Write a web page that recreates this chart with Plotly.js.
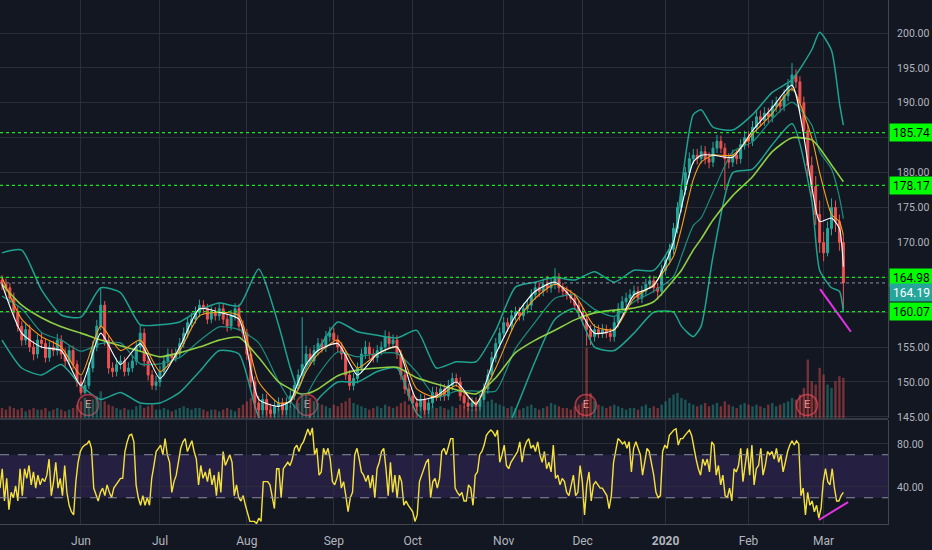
<!DOCTYPE html>
<html><head><meta charset="utf-8">
<script src="https://cdn.plot.ly/plotly-3.0.1.min.js"></script>
<style>html,body{margin:0;padding:0;background:#131722;}#chart{width:932px;height:550px;}</style>
</head><body><div id="chart"></div>
<script>
// trading-day index of the first session of each month
const monthIdx = [20, 40, 62, 84, 104, 127, 147, 168, 189, 208];
const monthLabels = ['Jun','Jul','Aug','Sep','Oct','Nov','Dec','<b>2020</b>','Feb','Mar'];

const opens = [164.6,164,163.5,162,160,158,156,157.5,155,154,
156,155.5,153.5,155,154.5,156,154,153,154.5,152.5,
150,148.5,149.5,152,155,158,161,156,152,151.5,
152.5,153,151.5,152,153,155,157,153,151,149.5,
150,151.5,153,154,153.5,154,155.5,157,158.5,159,
160,161,160.5,159,160,159.5,160.5,159,158,159.5,
160.5,158,157,154,150,147,146,147.5,146,145.5,
146.5,147,146,147,148,149.5,151,152.5,154,153,
154.5,155.5,155,156.5,157,156,155,154,151,149.5,
150.5,152,154,155,154,153.5,154.5,155,156.5,155.5,
156,154,151,149,148,147,146.5,147.5,146,147,
148.5,148,149,148,149.5,150.5,150,148,147,146.5,
147,146.5,147.5,149,151,153.5,155.5,157,158.5,158,
159.5,160,159.5,160.5,161,162.5,163.5,163,164,163.5,
164,165,163.5,163,162.5,162,161,160,159,157.5,
156.5,157.5,157,157.5,157,156.5,158.5,160.5,161.5,162,
162.5,163,162,163,164,164.5,163.5,163,166,167.5,
169,172,175,177.5,180,182,182.5,182,183,182,
181.5,183.5,184.5,183.5,182,181.5,182.5,182,184,185,
184.5,186.5,188,187.5,188.5,188,189.5,190,189.5,191,
192.5,194,193,190,186,181,178,174,170,168.5,
172,175,173,170];
const highs = [165.3,164.8,164.2,162.8,160.9,158.7,158.4,158.2,155.9,156.8,
157,156.2,155.8,155.9,156.9,156.7,154.8,155.3,155.2,153.1,
150.8,150.3,152.8,155.9,158.9,163.4,161.6,156.7,152.8,153.4,
153.8,153.6,152.8,153.8,155.8,158.2,157.7,153.6,151.7,150.9,
152.3,153.8,154.8,154.7,154.8,156.3,157.8,159.3,159.9,160.8,
161.8,161.7,161.2,160.8,160.7,161.3,161.2,159.7,160.3,161.3,
161.2,158.8,157.6,154.7,150.8,148,148.3,148.3,146.9,147.4,
147.8,147.7,147.8,148.8,150.3,151.8,159.3,155.2,154.8,155.3,
156.3,156.2,157.3,157.9,157.8,156.7,155.7,154.6,151.7,151.3,
152.8,154.8,155.9,155.7,154.8,155.3,155.8,157.4,157.2,156.8,
156.7,154.6,151.8,149.8,148.7,147.8,148.3,148.2,147.7,149.3,
149.3,149.8,149.7,150.3,151.3,151.2,150.7,148.7,147.8,147.8,
147.8,148.3,149.8,151.8,154.3,156.3,157.8,159.3,159.2,160.3,
160.8,160.7,161.3,161.8,163.3,164.3,164.3,164.8,165.2,164.8,
166.3,165.6,164.2,163.7,163.2,162.7,161.7,160.7,159.7,158.2,
158.3,158.2,158.3,158.2,157.7,159.3,161.3,162.3,162.8,163.3,
163.8,163.7,163.8,164.8,165.3,165.2,164.2,166.8,168.3,169.8,
172.8,175.8,178.3,180.8,182.9,183.4,183.4,183.9,183.8,182.9,
184.4,185.4,185.3,184.2,182.8,183.3,183.2,184.8,186,185.9,
187.4,189,188.9,189.4,189.3,190.4,190.9,190.8,191.9,193.4,
195.7,194.8,193.8,190.9,187,182.3,179.5,176,171.5,173,
176.3,176,174,171];
const lows = [163.2,162.8,161.3,159.2,157.2,155.2,155.3,154.3,153.1,153.4,
154.8,152.8,152.9,153.7,153.8,153.3,152.2,152.4,151.8,149.3,
148.1,148.2,149,151.4,154.4,157.4,155.2,151.2,150.7,150.8,
151.8,150.8,150.9,151.4,152.4,154.3,152.2,150.2,148.9,148.8,
149.3,150.8,152.4,152.8,152.9,153.4,154.9,156.3,157.8,158.4,
159.3,159.8,158.3,158.4,158.8,158.8,158.3,157.2,157.4,158.8,
157.3,156.2,153.2,149.2,146.2,145.1,145.3,145.2,144.9,144.9,
145.8,145.3,145.3,146.3,147.4,148.8,150.3,151.8,152.3,152.4,
153.8,154.2,154.3,155.8,155.3,154.3,153.2,150.3,148.8,148.8,
149.8,151.3,153.3,153.3,152.8,152.8,153.8,154.3,154.8,154.8,
153.3,150.3,148.3,147.3,146.2,145.8,145.8,145.3,145.4,146.3,
147.3,147.3,147.3,147.4,148.8,149.3,147.3,146.2,145.8,145.8,
145.8,145.9,146.8,148.3,150.3,152.8,154.8,156.3,157.2,157.3,
158.8,158.8,158.8,159.8,160.3,161.8,162.2,162.3,162.8,162.8,
163.3,162.8,162.2,161.8,161.3,160.3,159.3,158.2,155.2,155.3,
155.8,156.3,156.3,156.3,155.8,155.8,157.8,159.8,160.8,161.3,
161.8,161.3,161.3,162.3,163.3,162.8,161.8,162.3,165.3,166.8,
168.3,171.3,174.3,176.8,179.2,181.2,181.2,181.3,181.2,180.6,
180.8,182.8,182.8,177.5,180.6,180.8,181.2,181.3,183.3,183.6,
183.8,185.8,186.6,186.7,187.1,187.2,188.7,188.6,188.8,190.2,
191.6,192.1,189.2,184.9,179.5,176.5,172.5,168.5,167.3,168,
171,171.5,168.8,160.4];
const closes = [164,163.5,162,160,158,156,157.5,155,154,156,
155.5,153.5,155,154.5,156,154,153,154.5,152.5,150,
148.5,149.5,152,155,158,161,156,152,151.5,152.5,
153,151.5,152,153,155,157,153,151,149.5,150,
151.5,153,154,153.5,154,155.5,157,158.5,159,160,
161,160.5,159,160,159.5,160.5,159,158,159.5,160.5,
158,157,154,150,147,146,147.5,146,145.5,146.5,
147,146,147,148,149.5,151,152.5,154,153,154.5,
155.5,155,156.5,157,156,155,154,151,149.5,150.5,
152,154,155,154,153.5,154.5,155,156.5,155.5,156,
154,151,149,148,147,146.5,147.5,146,147,148.5,
148,149,148,149.5,150.5,150,148,147,146.5,147,
146.5,147.5,149,151,153.5,155.5,157,158.5,158,159.5,
160,159.5,160.5,161,162.5,163.5,163,164,163.5,164,
165,163.5,163,162.5,162,161,160,159,157.5,156.5,
157.5,157,157.5,157,156.5,158.5,160.5,161.5,162,162.5,
163,162,163,164,164.5,163.5,163,166,167.5,169,
172,175,177.5,180,182,182.5,182,183,182,181.5,
183.5,184.5,183.5,182,181.5,182.5,182,184,185,184.5,
186.5,188,187.5,188.5,188,189.5,190,189.5,191,192.5,
194,193,190,186,181,178,174,170,168.5,172,
175,173,170,164.19];
const volumes = [6,5,7,6,5,6,4,5,6,5,
5,6,4,5,6,5,4,5,6,8,
10,12,9,11,13,16,10,8,7,6,
5,6,5,5,7,8,6,7,8,5,
5,6,5,4,5,6,7,6,5,6,
6,5,4,5,5,4,5,6,5,4,
6,8,10,12,11,8,9,7,8,6,
6,7,6,7,8,9,15,14,12,10,
9,8,7,6,8,7,9,10,12,9,
8,7,6,5,6,7,6,8,7,6,
7,9,10,8,7,9,7,8,6,7,
6,7,6,5,7,6,8,7,6,5,
6,7,8,10,11,9,8,7,6,7,
6,5,6,7,8,6,5,6,7,9,
8,7,6,6,5,7,8,9,42,15,
10,8,7,6,7,8,7,6,5,6,
6,5,7,8,6,7,6,8,10,12,
14,15,12,11,9,8,7,8,9,7,
8,9,7,10,8,7,6,8,9,8,
7,8,7,6,8,9,7,8,9,10,
12,11,14,18,35,22,20,30,26,20,
18,22,25,24];

// indicator readings (sampled at these trading-day indices)
const bandIdx = [0,5,10,15,20,25,30,35,40,45,50,55,60,65,70,73,75,77,80,85,90,95,100,105,110,115,120,125,130,135,140,145,150,155,160,165,170,172,175,177,180,185,190,195,200,205,207,210,212,213];
const bbUpper = [168.5,168.9,163.2,159.6,159.3,163.5,162.8,158.2,158.2,158.6,160.3,161.3,160.9,166.2,158.2,152,149,152,154.6,158.6,157.2,156.7,156.3,157.4,152,152.9,152.9,157.4,163.6,164.3,165,164.6,165.8,164.3,166,166,170.3,178,188.3,189,186.5,186.1,188.3,191.5,193.3,197.6,200.1,197.5,190,186.8];
const bbBasis = [162.3,160.5,157.1,156,154.4,155.5,155.6,152.6,152.6,153.5,155.9,157.9,157.5,155.6,150.1,147.3,146,148,151,154.3,153.6,154.1,154.1,151.4,147.8,148.7,148.7,148.7,154.8,158.6,162,162.5,160.4,159.4,161.5,163,165.1,168,172.4,173.5,177.2,183,184.4,187.7,190.1,186.8,183,180.5,176.5,173.4];
const bbLower = [156,152,151,152.5,149.5,147.5,148.5,147,147,148.5,151.5,154.5,154,145,142,142.5,143,144,147.5,150,150,151.5,152,145.5,143.5,144.5,144.5,140,146,153,159,160.5,155,154.5,157,160,160,158,156.5,158,168,180,180.5,184,187,176,166,163.5,163,160];
const sma50 = [164,161,159.2,157.9,157,156,155.2,154.4,153.6,154.2,155,156,156.4,153.5,150,149,148.4,148.3,149,150.9,151.7,152,152.1,150.6,149.7,148.9,148.3,150.6,154.2,156,157.4,158.9,159.9,160.3,160.6,161.5,164.6,166,168.9,170.5,173.2,176.7,179.4,183,185,184.7,183.5,181.1,179.5,178.7];
const emaSlow = [165,159,156.5,155,151,158,154.5,156,151.5,154.5,159.5,160,159.5,150,147,147.2,149,151.5,154,156,152,154,155,149,147.8,149.5,147,152,158.5,162,164,162.5,158,157.5,162,164,168,172,179,181.5,182.5,182.5,185.5,188.5,192,185,180,174,173,171];
const emaFast = [164,157,155,154.5,149.5,157,152.5,155.5,150.5,155,160.5,160,159,147.5,146.5,147.3,150,152.5,154.5,155.5,151,154,155,147.5,148,150,146.8,154,159.5,163,164.3,161.5,157,157.5,162.5,163.8,170,175,181.5,182.5,182.5,182.2,186,189.3,192.5,178,173,173.5,172,166.5];

const rsiValues = [39,57,27,48,19,35,30,41,27,57,32,57,48,60,42,54,39,51,42,48,45,51,66,32,45,63,39,48,32,60,
35,23,17,14,45,63,73,77,79,80,83,76,39,32,27,35,39,32,42,35,30,39,42,45,48,48,73,82,88,89,82,
42,30,23,32,23,30,23,48,60,73,76,79,70,85,70,63,35,45,51,66,76,82,85,73,79,83,73,66,42,60,48,
54,45,57,42,51,32,54,35,73,60,66,70,63,32,42,30,27,32,23,14,8,8,8,6,11,8,45,45,45,42,30,20,57,
57,30,57,60,63,60,66,76,79,73,79,82,88,94,88,95,70,76,51,54,76,70,76,66,45,42,48,57,39,45,32,17,30,
35,70,76,66,54,51,45,51,39,51,30,57,63,73,76,57,32,63,35,51,30,51,45,23,27,23,20,17,8,14,45,51,57,
63,66,30,45,48,39,48,73,76,70,79,85,85,39,35,32,35,27,
27,42,39,23,51,54,70,73,79,88,91,93,91,87,93,63,70,79,60,57,63,66,70,73,82,63,76,82,85,76,79,73,82,
70,63,73,57,63,54,79,48,51,42,48,45,35,32,42,51,32,35,60,45,14,42,54,27,42,45,42,39,39,35,32,20,32,
63,76,85,83,80,82,76,82,54,76,82,76,70,51,63,76,73,63,51,35,30,32,73,79,76,88,91,93,94,79,85,85,88,
91,93,88,76,66,57,51,66,60,66,54,82,79,51,60,42,51,32,30,39,27,57,54,60,76,45,63,76,51,79,42,57,60,
76,51,60,73,70,73,66,76,63,70,54,63,73,79,83,79,83,80,32,39,14,35,23,27,17,23,11,20,45,57,45,42,57,
39,27,27,32,35];

const levels = [185.74, 178.17, 164.98, 160.07];
const lastPrice = 164.19;
const earningsIdx = [21.8, 77.2, 147.8, 203.8];
const divPriceIdx = [207.1, 214.9];
const divPrice = [163.3, 157.2];
const divRsiIdx = [206.8, 214.2];
const divRsi = [9.3, 26];
const priceTicks = [145,150,155,160,165,170,175,180,185,190,195,200];
const hiddenPriceTicks = [160, 165, 185]; // covered by level labels in the reference
const rsiTicks = [40, 80];

// ---------- build ----------
const days = closes.map((_, i) => i);
const upCol = '#26a69a', dnCol = '#ef5350';
const volColors = closes.map((c, i) => c >= opens[i] ? 'rgba(38,166,154,0.45)' : 'rgba(239,83,80,0.45)');
const rsiX = rsiValues.map((_, k) => -0.5 + k * (days[days.length - 1] + 0.5) / (rsiValues.length - 1));
const priceRange = [144.84, 204.73];
const eY = priceRange[0] + 0.031 * (priceRange[1] - priceRange[0]);

const font = 'Roboto, "Noto Sans", sans-serif';
const axisTxt = '#b2b5be';
const grid = '#2a2e39';

const traces = [
  {type:'bar', x:days, y:volumes, yaxis:'y3', xaxis:'x', marker:{color:volColors, line:{width:0}}, width:0.6, hoverinfo:'skip'},
  {type:'scatter', mode:'lines', x:bandIdx, y:bbUpper, line:{color:'#1fa391', width:1.5, shape:'spline', smoothing:0.6}, hoverinfo:'skip'},
  {type:'scatter', mode:'lines', x:bandIdx, y:bbLower, line:{color:'#1fa391', width:1.5, shape:'spline', smoothing:0.6}, hoverinfo:'skip'},
  {type:'scatter', mode:'lines', x:bandIdx, y:bbBasis, line:{color:'#1b8f80', width:1.2, shape:'spline', smoothing:0.6}, hoverinfo:'skip'},
  {type:'scatter', mode:'lines', x:bandIdx, y:sma50, line:{color:'#8fcf45', width:1.6, shape:'spline', smoothing:0.6}, hoverinfo:'skip'},
  {type:'candlestick', x:days, open:opens, high:highs, low:lows, close:closes,
   increasing:{line:{color:upCol, width:1}, fillcolor:upCol},
   decreasing:{line:{color:dnCol, width:1}, fillcolor:dnCol},
   whiskerwidth:0, hoverinfo:'skip'},
  {type:'scatter', mode:'lines', x:bandIdx, y:emaSlow, line:{color:'#ff9f1a', width:1.1, shape:'spline', smoothing:0.6}, hoverinfo:'skip'},
  {type:'scatter', mode:'lines', x:bandIdx, y:emaFast, line:{color:'#ffffff', width:1.1, shape:'spline', smoothing:0.6}, hoverinfo:'skip'},
  {type:'scatter', mode:'lines', x:divPriceIdx, y:divPrice, line:{color:'#e433e4', width:2}, hoverinfo:'skip'},
  {type:'scatter', mode:'markers+text', x:earningsIdx, y:earningsIdx.map(() => eY), text:earningsIdx.map(() => 'E'),
   textposition:'middle center', textfont:{color:'#e8a0a8', size:11, family:font},
   marker:{size:21, color:'#2a1a22', line:{color:'#a3384a', width:1.5}}, hoverinfo:'skip'},
  {type:'scatter', mode:'lines', x:rsiX, y:rsiValues, yaxis:'y2', line:{color:'#f5e13c', width:1.4}, hoverinfo:'skip'},
  {type:'scatter', mode:'lines', x:divRsiIdx, y:divRsi, yaxis:'y2', line:{color:'#e433e4', width:2}, hoverinfo:'skip'}
];

const shapes = [
  {type:'rect', xref:'paper', x0:0, x1:1, yref:'y2', y0:30, y1:70, fillcolor:'rgba(110,70,190,0.2)', line:{width:0}, layer:'below'},
  {type:'line', xref:'paper', x0:0, x1:1, yref:'y2', y0:30, y1:30, line:{color:'#8a8d99', width:1, dash:'dash'}},
  {type:'line', xref:'paper', x0:0, x1:1, yref:'y2', y0:70, y1:70, line:{color:'#8a8d99', width:1, dash:'dash'}},
  {type:'line', xref:'paper', x0:0, x1:1, yref:'paper', y0:0.2004, y1:0.2004, line:{color:'#363a45', width:2}},
  {type:'line', xref:'paper', x0:0, x1:1, yref:'y', y0:lastPrice, y1:lastPrice, line:{color:'rgba(170,190,210,0.75)', width:1, dash:'dot'}}
];
levels.forEach(v => shapes.push({type:'line', xref:'paper', x0:0, x1:1, yref:'y', y0:v, y1:v, line:{color:'#19e619', width:1.2, dash:'dot'}}));

const annotations = [];
levels.forEach(v => annotations.push({xref:'paper', x:1, xanchor:'left', xshift:1, yref:'y', y:v, yanchor:'middle',
  text:v.toFixed(2), showarrow:false, bgcolor:'#00ff00', font:{color:'#000000', size:12, family:font}, width:41, height:15, borderpad:1}));
// last-price label is nudged below the 164.98 label, as in the reference
annotations.push({xref:'paper', x:1, xanchor:'left', xshift:1, yref:'y', y:lastPrice, yanchor:'middle', yshift:-10,
  text:lastPrice.toFixed(2), showarrow:false, bgcolor:'#26a69a', font:{color:'#ffffff', size:12, family:font}, width:41, height:15, borderpad:1});

const layout = {
  width:932, height:550,
  margin:{l:0, r:44, t:0, b:26},
  paper_bgcolor:'#131722', plot_bgcolor:'#131722',
  showlegend:false, hovermode:false,
  font:{family:font, color:axisTxt, size:11},
  xaxis:{range:[-0.5, 224.3], tickvals:monthIdx, ticktext:monthLabels, showgrid:true, gridcolor:grid,
    zeroline:false, anchor:'y2', ticks:'outside', ticklen:6, tickcolor:'rgba(0,0,0,0)',
    showline:true, linecolor:'#434651', tickfont:{color:axisTxt, size:12, family:font},
    rangeslider:{visible:false}},
  yaxis:{domain:[0.2023, 1], range:priceRange, side:'right', tickvals:priceTicks,
    ticktext:priceTicks.map(v => hiddenPriceTicks.includes(v) ? '' : v.toFixed(2)),
    showgrid:true, gridcolor:grid, zeroline:false, showline:true, linecolor:'#434651',
    ticks:'outside', ticklen:6, tickcolor:'rgba(0,0,0,0)', tickfont:{color:axisTxt, size:10.5, family:font}, anchor:'x'},
  yaxis2:{domain:[0, 0.1985], range:[5.6, 102.3], side:'right', tickvals:rsiTicks, ticktext:rsiTicks.map(v => v.toFixed(2)),
    showgrid:true, gridcolor:grid, zeroline:false, showline:true, linecolor:'#434651',
    ticks:'outside', ticklen:6, tickcolor:'rgba(0,0,0,0)', tickfont:{color:axisTxt, size:10.5, family:font}, anchor:'x'},
  yaxis3:{overlaying:'y', range:[0, 250], visible:false, showgrid:false, zeroline:false},
  shapes:shapes, annotations:annotations
};

Plotly.newPlot('chart', traces, layout, {displayModeBar:false, staticPlot:true});
</script>
</body></html>
